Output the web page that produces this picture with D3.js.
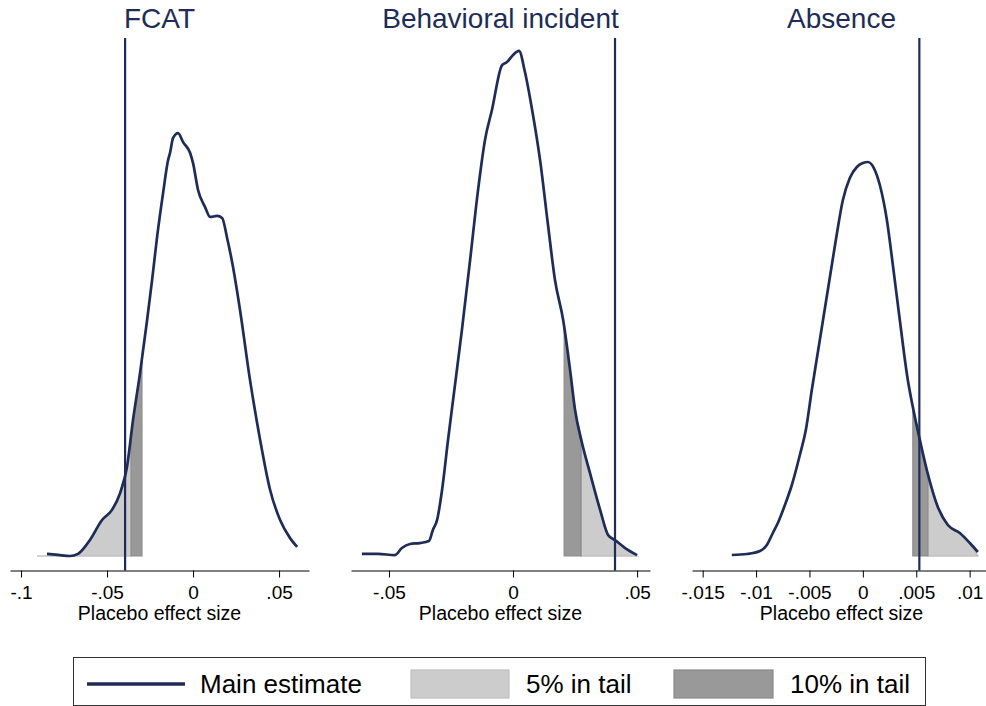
<!DOCTYPE html>
<html>
<head>
<meta charset="utf-8">
<script src="https://cdn.jsdelivr.net/npm/d3@7/dist/d3.min.js"></script>
<style>
  body { margin: 0; background: #fff; }
  svg { display: block; font-family: "Liberation Sans", Arial, sans-serif; }
  .title { fill: #1e2c57; font-size: 28px; }
  .axis path, .axis line { stroke: #000; stroke-width: 1; }
  .axis text { fill: #000; font-size: 19px; font-family: "Liberation Sans", Arial, sans-serif; }
  .axisTitle { fill: #000; font-size: 19.5px; }
  .legendText { fill: #000; font-size: 26px; }
</style>
</head>
<body>
<svg id="chart" width="986" height="706"></svg>
<script>

// ---- data ----
var panelTitles = ["FCAT", "Behavioral incident", "Absence"];

// kernel density of placebo estimates, FCAT
var fcatX = [-0.0849, -0.0785, -0.0715, -0.0669, -0.0599, -0.0529, -0.0471, -0.0424, -0.0384, -0.0349,
  -0.0308, -0.0267, -0.0238, -0.0209, -0.0174, -0.0145, -0.0134, -0.0116, -0.0087, -0.0058,
  -0.0017, 0.0, 0.0029, 0.0070, 0.0099, 0.0140, 0.0169, 0.0198, 0.0227, 0.0273,
  0.0331, 0.0390, 0.0448, 0.0506, 0.0564, 0.0605];
var fcatDensity = [0.08, 0.04, 0.0, 0.08, 0.62, 1.39, 1.78, 2.43, 3.44, 5.25,
  7.07, 9.11, 10.66, 12.32, 14.02, 15.29, 15.56, 16.14, 16.33, 15.98,
  15.56, 15.17, 14.13, 13.47, 13.09, 13.13, 13.05, 12.28, 11.35, 9.50,
  6.80, 4.48, 2.55, 1.39, 0.69, 0.35];

// Behavioral incident
var behavX = [-0.0609, -0.0544, -0.0476, -0.0448, -0.0415, -0.0375, -0.0339, -0.0323, -0.0306, -0.0286,
  -0.0262, -0.0234, -0.0206, -0.0173, -0.0141, -0.0113, -0.0085, -0.0044, -0.0024, 0.0,
  0.0024, 0.0048, 0.0077, 0.0109, 0.0141, 0.0169, 0.0202, 0.0230, 0.0250, 0.0278,
  0.0310, 0.0351, 0.0383, 0.0411, 0.0452, 0.0500];
var behavDensity = [0.11, 0.11, 0.05, 0.43, 0.65, 0.70, 0.81, 1.41, 1.95, 3.57,
  6.27, 9.24, 12.22, 16.00, 19.78, 22.49, 24.11, 26.54, 26.70, 27.08,
  27.30, 26.16, 24.11, 21.40, 17.89, 14.92, 12.76, 10.05, 7.89, 6.11,
  4.49, 2.49, 1.14, 0.86, 0.43, 0.05];

// Absence
var absX = [-0.01227, -0.01086, -0.00964, -0.00899, -0.00843, -0.00796, -0.00730, -0.00665, -0.00590, -0.00534,
  -0.00478, -0.00403, -0.00328, -0.00253, -0.00187, -0.00122, -0.00056, 0.0, 0.00047, 0.00103,
  0.00159, 0.00225, 0.00281, 0.00346, 0.00421, 0.00468, 0.00534, 0.00599, 0.00702, 0.00796,
  0.00908, 0.01002, 0.01077];
var absDensity = [0.44, 0.89, 2.22, 4.88, 10.21, 14.65, 22.64, 31.52, 44.84, 55.94,
  73.70, 95.90, 118.10, 140.30, 158.06, 167.83, 172.72, 174.49, 174.94, 172.27,
  164.72, 149.18, 129.20, 104.78, 78.14, 66.16, 51.50, 38.18, 21.76, 13.76,
  10.21, 5.77, 1.78];

var mainEstimates = [-0.0395, 0.0411, 0.00529];
var tail5 = [[-0.0907, -0.0360], [0.0274, 0.0500], [0.00609, 0.01086]];
var tail10 = [[-0.0360, -0.0297], [0.0206, 0.0274], [0.00468, 0.00609]];

var xTicksFcat = [-0.1, -0.05, 0, 0.05];
var xTicksBehav = [-0.05, 0, 0.05];
var xTicksAbs = [-0.015, -0.01, -0.005, 0, 0.005, 0.01];

var xTitle = "Placebo effect size";
var legendLabels = ["Main estimate", "5% in tail", "10% in tail"];

// ---- layout ----
var navy = "#1e2c57";
var panelLeft = [10, 351, 692];
var panelWidth = 299;
var plotTop = 38;
var baseY = 556;
var axisY = 570.5;
var xDomains = [[-0.1064, 0.0674], [-0.0653, 0.0552], [-0.0160, 0.0120]];
var yMax = [20, 28, 230];

var panels = [
  {x: fcatX, d: fcatDensity, ticks: xTicksFcat},
  {x: behavX, d: behavDensity, ticks: xTicksBehav},
  {x: absX, d: absDensity, ticks: xTicksAbs}
];

var svg = d3.select("#chart");

var stataFormat = function (v) {
  if (v === 0) return "0";
  return String(+v.toFixed(4)).replace("0.", ".");
};

// linear lookup of the density at v (0 outside the estimated support)
var densityAt = function (xs, ds, v) {
  if (v <= xs[0] || v >= xs[xs.length - 1]) return 0;
  for (var i = 1; i < xs.length; i++) {
    if (v <= xs[i]) {
      var t = (v - xs[i - 1]) / (xs[i] - xs[i - 1]);
      return ds[i - 1] + t * (ds[i] - ds[i - 1]);
    }
  }
  return 0;
};

panels.forEach(function (p, k) {

  var x = d3.scaleLinear().domain(xDomains[k]).range([panelLeft[k], panelLeft[k] + panelWidth]);
  var y = d3.scaleLinear().domain([0, yMax[k]]).range([baseY, plotTop]);
  var g = svg.append("g");

  var pts = p.x.map(function (v, i) { return [v, p.d[i]]; });

  var area = d3.area()
    .x(function (d) { return x(d[0]); })
    .y0(y(0))
    .y1(function (d) { return y(d[1]); });

  var band = function (lim) {
    var xs = [lim[0]].concat(p.x.filter(function (v) { return v > lim[0] && v < lim[1]; }), [lim[1]]);
    return xs.map(function (v) { return [v, densityAt(p.x, p.d, v)]; });
  };

  g.append("path")
    .datum(band(tail5[k]))
    .attr("d", area)
    .style("fill", "#cccccc")
    .style("stroke", "#c2c2c2")
    .style("stroke-width", 1.5);

  g.append("path")
    .datum(band(tail10[k]))
    .attr("d", area)
    .style("fill", "#999999")
    .style("stroke", "#8c8c8c")
    .style("stroke-width", 1.2);

  g.append("path")
    .datum(pts)
    .attr("d", d3.line()
      .x(function (d) { return x(d[0]); })
      .y(function (d) { return y(d[1]); })
      .curve(d3.curveMonotoneX))
    .style("fill", "none")
    .style("stroke", navy)
    .style("stroke-width", 2.7)
    .style("stroke-linejoin", "round");

  g.append("line")
    .attr("x1", x(mainEstimates[k])).attr("x2", x(mainEstimates[k]))
    .attr("y1", plotTop).attr("y2", axisY)
    .style("stroke", navy)
    .style("stroke-width", 2.2);

  g.append("g")
    .attr("class", "axis")
    .attr("transform", "translate(0," + axisY + ")")
    .call(d3.axisBottom(x)
      .tickValues(p.ticks)
      .tickFormat(stataFormat)
      .tickSize(7)
      .tickSizeOuter(0)
      .tickPadding(8));

  var cx = panelLeft[k] + panelWidth / 2;

  g.append("text")
    .attr("class", "axisTitle")
    .attr("x", cx).attr("y", 620)
    .attr("text-anchor", "middle")
    .text(xTitle);

  g.append("text")
    .attr("class", "title")
    .attr("x", cx).attr("y", 28)
    .attr("text-anchor", "middle")
    .text(panelTitles[k]);
});

// ---- legend ----
var legend = svg.append("g");

legend.append("rect")
  .attr("x", 73.5).attr("y", 657.5)
  .attr("width", 852).attr("height", 48)
  .style("fill", "#fff")
  .style("stroke", "#333")
  .style("stroke-width", 1);

legend.append("line")
  .attr("x1", 87).attr("x2", 185)
  .attr("y1", 684).attr("y2", 684)
  .style("stroke", navy)
  .style("stroke-width", 3.5);

legend.append("rect")
  .attr("x", 411).attr("y", 670).attr("width", 98).attr("height", 28)
  .style("fill", "#cccccc").style("stroke", "#c0c0c0").style("stroke-width", 1.2);

legend.append("rect")
  .attr("x", 674).attr("y", 670).attr("width", 99).attr("height", 28)
  .style("fill", "#999999").style("stroke", "#8a8a8a").style("stroke-width", 1.2);

var legendX = [200, 526, 790];
legendLabels.forEach(function (label, i) {
  legend.append("text")
    .attr("class", "legendText")
    .attr("x", legendX[i]).attr("y", 693)
    .text(label);
});

</script>
</body>
</html>
